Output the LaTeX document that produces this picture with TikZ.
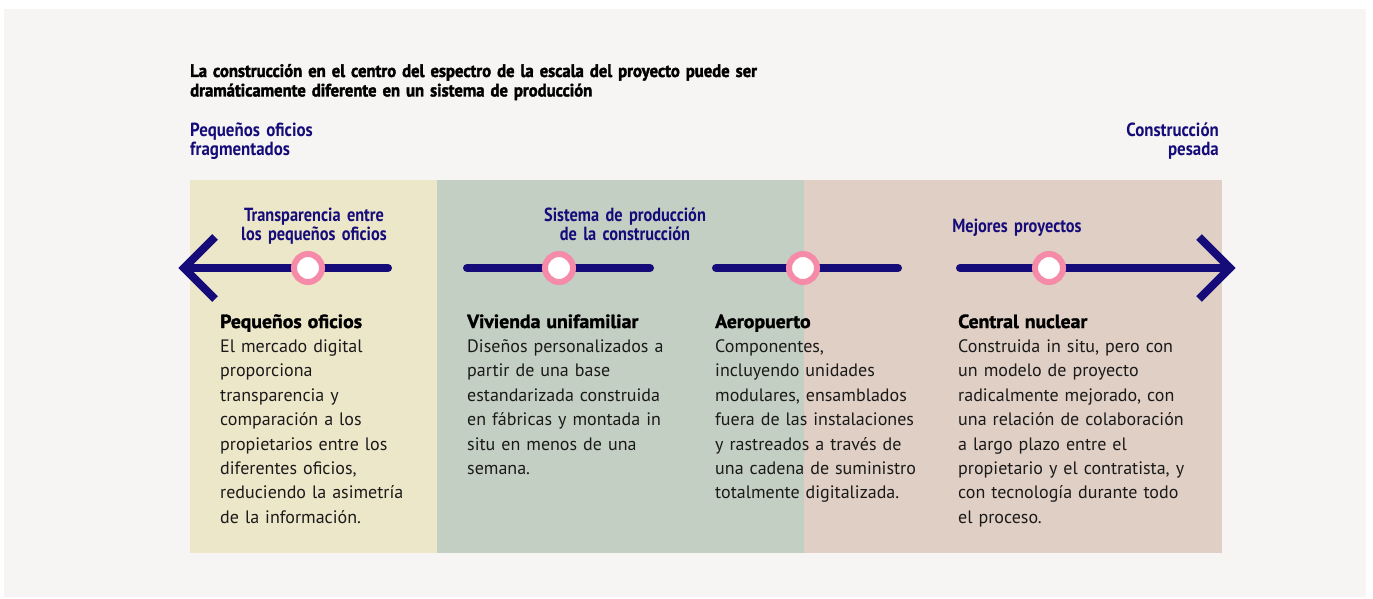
\documentclass[tikz,border=0pt]{standalone}
\usepackage{fontspec}
\setmainfont{PT Sans}
\newfontfamily\titlefont{PT Sans}[FakeStretch=0.925,FakeBold=2]
\newfontfamily\navyfont{PT Sans}[FakeStretch=0.86]
\newfontfamily\endfont{PT Sans}[FakeStretch=0.89]
\newfontfamily\headfont{PT Sans}[FakeStretch=1.04,FakeBold=1.6]
\definecolor{bggray}{HTML}{F6F5F3}
\definecolor{pyellow}{HTML}{EDE7C9}
\definecolor{pgreen}{HTML}{C4CFC3}
\definecolor{ppink}{HTML}{E0CFC4}
\definecolor{navy}{HTML}{150C7A}
\definecolor{ringpink}{HTML}{F58BA8}
\definecolor{bodyblack}{HTML}{1A1A1A}
\newcommand{\hd}[1]{{\headfont\bfseries\fontsize{19}{24.4}\selectfont\color{black}#1}}
\begin{document}
\begin{tikzpicture}[x=1pt,y=-1pt,
  axis/.style={draw=navy,line width=8pt,line cap=round},
  chev/.style={draw=navy,line width=8pt,line cap=butt,line join=miter},
  ring/.style={circle,fill=white,draw=ringpink,line width=6pt,minimum size=28pt,inner sep=0pt},
  navylbl/.style={inner sep=0pt,text=navy,text width=240pt,align=center,font=\navyfont\bfseries\fontsize{19}{19}\selectfont},
  endlbl/.style={inner sep=0pt,text=navy,text width=200pt,font=\endfont\bfseries\fontsize{19}{18.5}\selectfont},
  body/.style={inner sep=0pt,text=bodyblack,text width=250pt,align=left,font=\fontsize{18}{24.4}\selectfont},
  titlest/.style={inner sep=0pt,text=black,text width=700pt,align=left,font=\titlefont\bfseries\fontsize{18}{19.5}\selectfont}
]
\useasboundingbox (0,0) rectangle (1373,599);
\fill[white] (0,0) rectangle (1373,599);
\fill[bggray] (4,9) rectangle (1366,597);
\fill[pyellow] (190,180) rectangle (437,553);
\fill[pgreen] (437,180) rectangle (804,553);
\fill[ppink] (804,180) rectangle (1222,553);

% title
\node[titlest,anchor=base west] (title) at (190,77) {La construcción en el centro del espectro de la escala del proyecto puede ser\\dramáticamente diferente en un sistema de producción};

% end labels
\node[endlbl,align=left,anchor=base west] (leftend) at (190,137) {Pequeños oficios\\fragmentados};
\node[endlbl,align=right,anchor=base east] (rightend) at (1219,137) {Construcción\\pesada};

% axis
\coordinate (lt) at (184,268);
\coordinate (l1) at (388,268);
\coordinate (l2a) at (467,268);
\coordinate (l2b) at (650,268);
\coordinate (l3a) at (716,268);
\coordinate (l3b) at (898,268);
\coordinate (l4a) at (960,268);
\coordinate (rt) at (1230,268);
\coordinate (lu) at (215,237);
\coordinate (ld) at (215,299);
\coordinate (ru) at (1199,237);
\coordinate (rd) at (1199,299);
\draw[axis] (lt) -- (l1);
\draw[axis] (l2a) -- (l2b);
\draw[axis] (l3a) -- (l3b);
\draw[axis] (l4a) -- (rt);
\draw[chev] (lu) -- (lt) -- (ld);
\draw[chev] (ru) -- (rt) -- (rd);
\node[ring] (c1) at (308,268) {};
\node[ring] (c2) at (559,268) {};
\node[ring] (c3) at (803,268) {};
\node[ring] (c4) at (1049,268) {};

% labels above axis
\node[navylbl,anchor=base] (lab1) at (314,221) {Transparencia entre\\los pequeños oficios};
\node[navylbl,anchor=base] (lab2) at (625,221) {Sistema de producción\\de la construcción};
\node[navylbl,anchor=base] (lab3) at (1017,232) {Mejores proyectos};

% body texts
\node[body,anchor=base west] (b1) at (220,328) {\hd{Pequeños oficios}\\El mercado digital\\proporciona\\transparencia y\\comparación a los\\propietarios entre los\\diferentes oficios,\\reduciendo la asimetría\\de la información.};
\node[body,anchor=base west] (b2) at (467,328) {\hd{Vivienda unifamiliar}\\Diseños personalizados a\\partir de una base\\estandarizada construida\\en fábricas y montada in\\situ en menos de una\\semana.};
\node[body,anchor=base west] (b3) at (715,328) {\hd{Aeropuerto}\\Componentes,\\incluyendo unidades\\modulares, ensamblados\\fuera de las instalaciones\\y rastreados a través de\\una cadena de suministro\\totalmente digitalizada.};
\node[body,anchor=base west] (b4) at (958,328) {\hd{Central nuclear}\\Construida in situ, pero con\\un modelo de proyecto\\radicalmente mejorado, con\\una relación de colaboración\\a largo plazo entre el\\propietario y el contratista, y\\con tecnología durante todo\\el proceso.};
\end{tikzpicture}
\end{document}
